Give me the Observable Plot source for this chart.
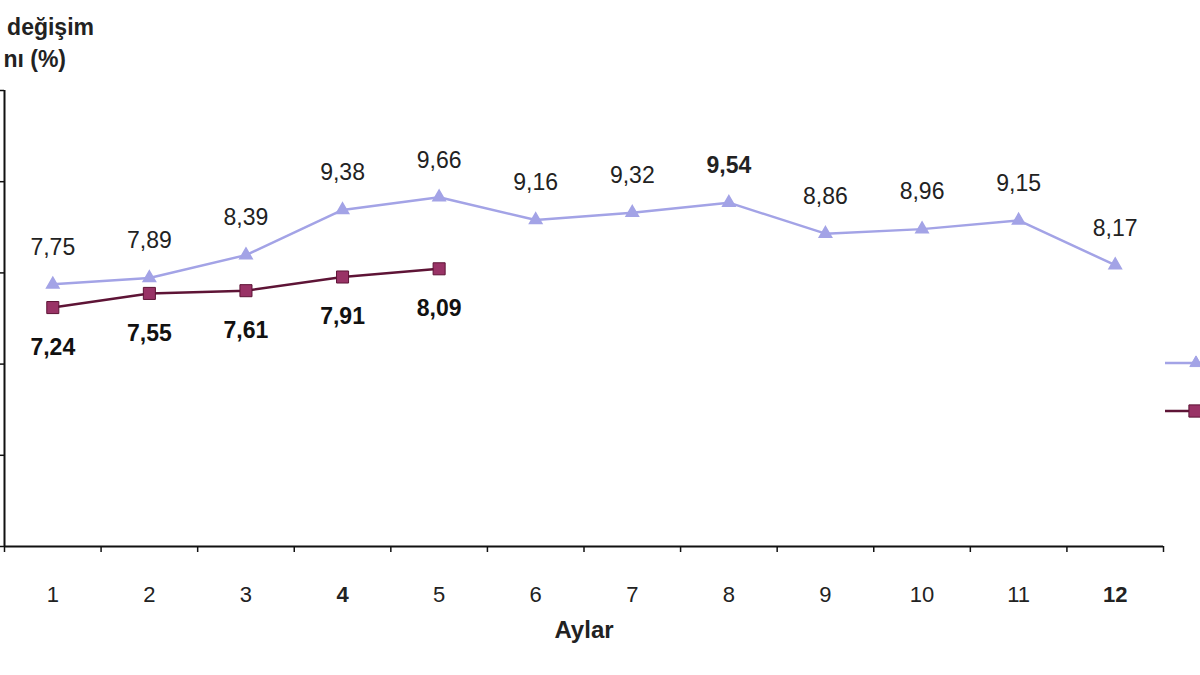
<!DOCTYPE html>
<html>
<head>
<meta charset="utf-8">
<script src="https://cdn.jsdelivr.net/npm/d3@7"></script>
<script src="https://cdn.jsdelivr.net/npm/@observablehq/plot@0.6"></script>
<style>
  html, body { margin: 0; padding: 0; background: #fff; }
  #wrap { position: relative; width: 1200px; height: 675px; overflow: hidden; font-family: "Liberation Sans", Arial, sans-serif; }
  .ttl { position: absolute; font-weight: bold; font-size: 23px; line-height: 25px; color: #222; white-space: nowrap; }
  #legend { position: absolute; left: 0; top: 0; }
</style>
</head>
<body>
<div id="wrap"></div>
<script>
const months = [1, 2, 3, 4, 5, 6, 7, 8, 9, 10, 11, 12];
const seriesLight = [7.75, 7.89, 8.39, 9.38, 9.66, 9.16, 9.32, 9.54, 8.86, 8.96, 9.15, 8.17];
const seriesDark = [7.24, 7.55, 7.61, 7.91, 8.09];
const yTicks = [2, 4, 6, 8, 10, 12];
const boldLightLabels = [8];
const boldMonthLabels = [4, 12];
const titleLines = ["değişim", "nı (%)"];
const xLabel = "Aylar";

const lightColor = "#a3a3e6";
const darkLine = "#5e1436";
const darkFill = "#993366";

const fmt = v => d3.format(".2f")(v).replace(".", ",");
const light = months.map((m, i) => ({month: m, value: seriesLight[i]}));
const dark = seriesDark.map((v, i) => ({month: months[i], value: v}));
const bandEdges = d3.range(0, 13).map(i => i + 0.5);
const normalMonths = months.filter(m => !boldMonthLabels.includes(m));
const boldMonths = months.filter(m => boldMonthLabels.includes(m));

const chart = Plot.plot({
  width: 1200,
  height: 675,
  marginLeft: 4,
  marginRight: 37,
  marginTop: 90,
  marginBottom: 129,
  style: {fontFamily: "Liberation Sans, Arial, sans-serif", background: "#fff", overflow: "visible"},
  x: {type: "linear", domain: [0.5, 12.5], label: null},
  y: {domain: [2, 12], label: null},
  marks: [
    Plot.axisY({ticks: yTicks, tickSize: 5, tickFormat: () => "", stroke: "#111", strokeWidth: 1.5, label: null}),
    Plot.axisX({ticks: bandEdges, tickSize: 6, tickFormat: () => "", stroke: "#111", strokeWidth: 1.5, label: null}),
    Plot.axisX({ticks: normalMonths, tickSize: 0, tickPadding: 40, tickFormat: d => String(d), fontSize: 22, fill: "#222", label: null}),
    Plot.axisX({ticks: boldMonths, tickSize: 0, tickPadding: 40, tickFormat: d => String(d), fontSize: 22, fontWeight: "bold", fill: "#222", label: null}),
    Plot.ruleX([0.5], {stroke: "#111", strokeWidth: 2}),
    Plot.ruleY([2], {stroke: "#111", strokeWidth: 2}),
    Plot.text([xLabel], {frameAnchor: "bottom", dy: 91, fontSize: 24, fontWeight: "bold", fill: "#222"}),
    Plot.line(light, {x: "month", y: "value", stroke: lightColor, strokeWidth: 2.5}),
    Plot.dot(light, {x: "month", y: "value", symbol: "triangle", r: 4.6, fill: lightColor, stroke: lightColor}),
    Plot.line(dark, {x: "month", y: "value", stroke: darkLine, strokeWidth: 2.5}),
    Plot.dot(dark, {x: "month", y: "value", symbol: "square", r: 6.8, fill: darkFill, stroke: darkLine, strokeWidth: 1}),
    Plot.text(light.filter(d => !boldLightLabels.includes(d.month)), {x: "month", y: "value", text: d => fmt(d.value), dy: -37, fontSize: 23, fill: "#222"}),
    Plot.text(light.filter(d => boldLightLabels.includes(d.month)), {x: "month", y: "value", text: d => fmt(d.value), dy: -37, fontSize: 23, fontWeight: "bold", fill: "#222"}),
    Plot.text(dark, {x: "month", y: "value", text: d => fmt(d.value), dy: 40, fontSize: 23, fontWeight: "bold", fill: "#111"})
  ]
});

const wrap = document.getElementById("wrap");
wrap.appendChild(chart);

// title (partially cropped in the reference)
const t1 = document.createElement("div");
t1.className = "ttl"; t1.textContent = titleLines[0];
t1.style.right = (1200 - 94) + "px"; t1.style.top = "15px";
wrap.appendChild(t1);
const t2 = document.createElement("div");
t2.className = "ttl"; t2.textContent = titleLines[1];
t2.style.right = (1200 - 66) + "px"; t2.style.top = "47px";
wrap.appendChild(t2);

// legend swatches (labels cut off at right edge in the reference)
const ns = "http://www.w3.org/2000/svg";
const lg = document.createElementNS(ns, "svg");
lg.setAttribute("id", "legend");
lg.setAttribute("width", 1200); lg.setAttribute("height", 675);
lg.style.pointerEvents = "none";
const legendItems = [
  {y: 363, stroke: lightColor, fill: lightColor, sym: d3.symbolTriangle, size: 66, sx: 1196},
  {y: 411, stroke: darkLine, fill: darkFill, sym: d3.symbolSquare, size: 150, sx: 1195}
];
legendItems.forEach(it => {
  const l = document.createElementNS(ns, "line");
  l.setAttribute("x1", 1165); l.setAttribute("x2", 1200);
  l.setAttribute("y1", it.y); l.setAttribute("y2", it.y);
  l.setAttribute("stroke", it.stroke); l.setAttribute("stroke-width", 2.5);
  lg.appendChild(l);
  const p = document.createElementNS(ns, "path");
  p.setAttribute("d", d3.symbol(it.sym, it.size)());
  p.setAttribute("transform", `translate(${it.sx},${it.y})`);
  p.setAttribute("fill", it.fill); p.setAttribute("stroke", it.stroke);
  lg.appendChild(p);
});
wrap.appendChild(lg);
</script>
</body>
</html>
